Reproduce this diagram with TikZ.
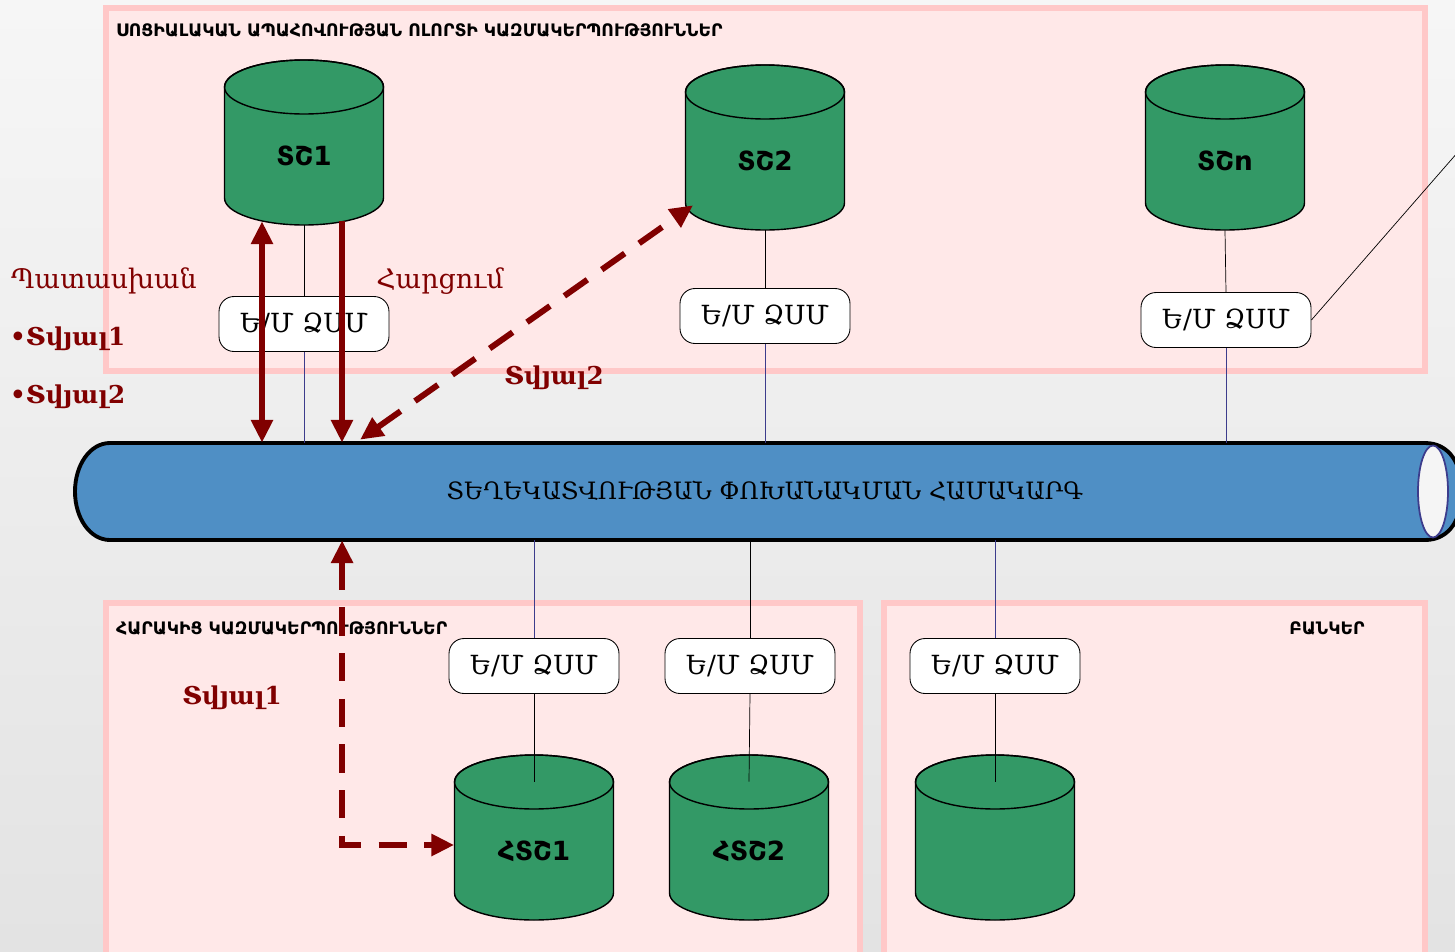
\documentclass[tikz,border=0pt]{standalone}
\usepackage{fontspec}
\setmainfont{DejaVu Serif}
\newfontfamily\armsans{DejaVu Sans}
\usetikzlibrary{arrows.meta}

\definecolor{pinkfill}{RGB}{255,232,232}
\definecolor{pinkline}{RGB}{255,200,200}
\definecolor{dbgreen}{RGB}{51,153,102}
\definecolor{busblue}{RGB}{79,143,197}
\definecolor{navyline}{RGB}{60,60,140}
\definecolor{darkred}{RGB}{128,0,0}

\tikzset{
    zone/.style={draw=pinkline, fill=pinkfill, line width=3.4pt},
    zonetitle/.style={anchor=west, font=\armsans\bfseries\fontsize{9.8}{11}\selectfont},
    dbshape/.style={draw=black, fill=dbgreen, line width=0.8pt},
    dbnode/.style={minimum width=3.18cm, minimum height=2.76cm, inner sep=0pt,
        font=\armsans\bfseries\fontsize{15}{18}\selectfont},
    emq/.style={draw=black, fill=white, rounded corners=0.3cm, line width=0.5pt,
        minimum width=3.4cm, minimum height=1.1cm, inner sep=0pt,
        font=\fontsize{15}{18}\selectfont},
    busnode/.style={minimum width=27.6cm, minimum height=1.94cm, inner sep=0pt,
        font=\fontsize{13.6}{16}\selectfont},
    redlabel/.style={text=darkred, font=\fontsize{15.3}{18}\selectfont},
    redbold/.style={text=darkred, font=\bfseries\fontsize{14}{18}\selectfont},
    flow/.style={draw=darkred, line width=3.4pt, {Triangle[length=13pt,width=12pt]}-{Triangle[length=13pt,width=12pt]}},
    flowone/.style={draw=darkred, line width=3.4pt, -{Triangle[length=13pt,width=12pt]}},
    flowdash/.style={flow, dash pattern=on 16pt off 10pt}
}

\begin{document}
\begin{tikzpicture}[x=0.02cm, y=-0.02cm]
    \useasboundingbox (0,0) rectangle (1455,951);
    \clip (0,0) rectangle (1455,951);
    \shade[top color=gray!7, bottom color=gray!22] (0,0) rectangle (1455,951);

    % zones
    \draw[zone] (106,8) rectangle (1425,371);
    \draw[zone] (106,603) rectangle (860,960);
    \draw[zone] (884,603) rectangle (1425,960);
    \node[zonetitle] (ztop) at (110,30) {ՍՈՑԻԱԼԱԿԱՆ ԱՊԱՀՈՎՈՒԹՅԱՆ ՈԼՈՐՏԻ ԿԱԶՄԱԿԵՐՊՈՒԹՅՈՒՆՆԵՐ};
    \node[zonetitle] (zrel) at (110,628) {ՀԱՐԱԿԻՑ ԿԱԶՄԱԿԵՐՊՈՒԹՅՈՒՆՆԵՐ};
    \node[zonetitle, anchor=center] (zbank) at (1327,628) {ԲԱՆԿԵՐ};

    % bus
    \draw[fill=busblue, line width=2.2pt] (110,443) -- (1425,443)
        .. controls (1450,443) and (1462,465) .. (1462,491.5)
        .. controls (1462,518) and (1450,540) .. (1425,540) -- (110,540)
        .. controls (90,540) and (75,518) .. (75,491.5)
        .. controls (75,465) and (90,443) .. (110,443) -- cycle;
    \draw[navyline, fill=gray!8, line width=1pt] (1433,491.5) ellipse [x radius=0.3cm, y radius=0.92cm];
    \node[busnode] (bus) at (765,491.5) {ՏԵՂԵԿԱՏՎՈՒԹՅԱՆ ՓՈԽԱՆԱԿՄԱՆ ՀԱՄԱԿԱՐԳ};

    % databases
    \foreach \cx/\cy in {304/60, 765/65, 1225/65, 534/755, 749/755, 995/755} {
        \draw[dbshape] (\cx-79.5,\cy+138) arc[start angle=180, end angle=360, x radius=1.59cm, y radius=0.54cm]
            -- (\cx+79.5,\cy+27) arc[start angle=0, end angle=180, x radius=1.59cm, y radius=0.54cm] -- cycle;
        \draw[dbshape, fill=none] (\cx,\cy+27) ellipse [x radius=1.59cm, y radius=0.54cm];
    }
    \node[dbnode] (tc1) at (304,156) {ՏՇ1};
    \node[dbnode] (tc2) at (765,161) {ՏՇ2};
    \node[dbnode] (tcn) at (1225,161) {ՏՇn};
    \node[dbnode] (hc1) at (534,851) {ՀՏՇ1};
    \node[dbnode] (hc2) at (749,851) {ՀՏՇ2};
    \node[dbnode] (hc3) at (995,851) {};

    % gateways
    \node[emq] (q1) at (304,324) {Ե/Մ ՁՍՄ};
    \node[emq] (q2) at (765,316) {Ե/Մ ՁՍՄ};
    \node[emq] (qn) at (1226,320) {Ե/Մ ՁՍՄ};
    \node[emq] (q4) at (534,666) {Ե/Մ ՁՍՄ};
    \node[emq] (q5) at (750,666) {Ե/Մ ՁՍՄ};
    \node[emq] (q6) at (995,666) {Ե/Մ ՁՍՄ};

    \draw (tc1.south) -- (q1.north);
    \draw (tc2.south) -- (q2.north);
    \draw (tcn.south) -- (qn.north);
    \draw[navyline] (q1.south) -- (q1.south |- bus.north);
    \draw[navyline] (q2.south) -- (q2.south |- bus.north);
    \draw[navyline] (qn.south) -- (qn.south |- bus.north);
    \draw[navyline] (q4.north |- bus.south) -- (q4.north);
    \draw (q5.north |- bus.south) -- (q5.north);
    \draw[navyline] (q6.north |- bus.south) -- (q6.north);
    \draw (q4.south) -- (hc1.north);
    \draw (q5.south) -- (hc2.north);
    \draw (q6.south) -- (hc3.north);

    \coordinate (offpage) at (1458,152);
    \draw (qn.east) -- (offpage);

    % labels
    \node[redlabel] (lresp) at (104,281) {Պատասխան};
    \node[redbold, anchor=west] (ld1) at (4,339) {•Տվյալ1};
    \node[redbold, anchor=west] (ld2) at (4,397) {•Տվյալ2};
    \node[redlabel] (lreq) at (440,281) {Հարցում};
    \node[redbold] (lreqd) at (554,378) {Տվյալ2};
    \node[redbold] (lrel) at (232,698) {Տվյալ1};

    % flows
    \draw[flow] ([xshift=-0.84cm,yshift=0.08cm]tc1.south) -- ([xshift=-0.84cm]tc1.south |- bus.north);
    \draw[flowone] ([xshift=0.76cm,yshift=0.08cm]tc1.south) -- ([xshift=0.76cm]tc1.south |- bus.north);
    \draw[flowdash] ([xshift=-8.1cm,yshift=0.06cm]bus.north) -- ([xshift=-1.44cm,yshift=0.5cm]tc2.south);
    \draw[flowdash] ([xshift=-8.46cm]bus.south) |- ([yshift=0.12cm]hc1.west);
\end{tikzpicture}
\end{document}
